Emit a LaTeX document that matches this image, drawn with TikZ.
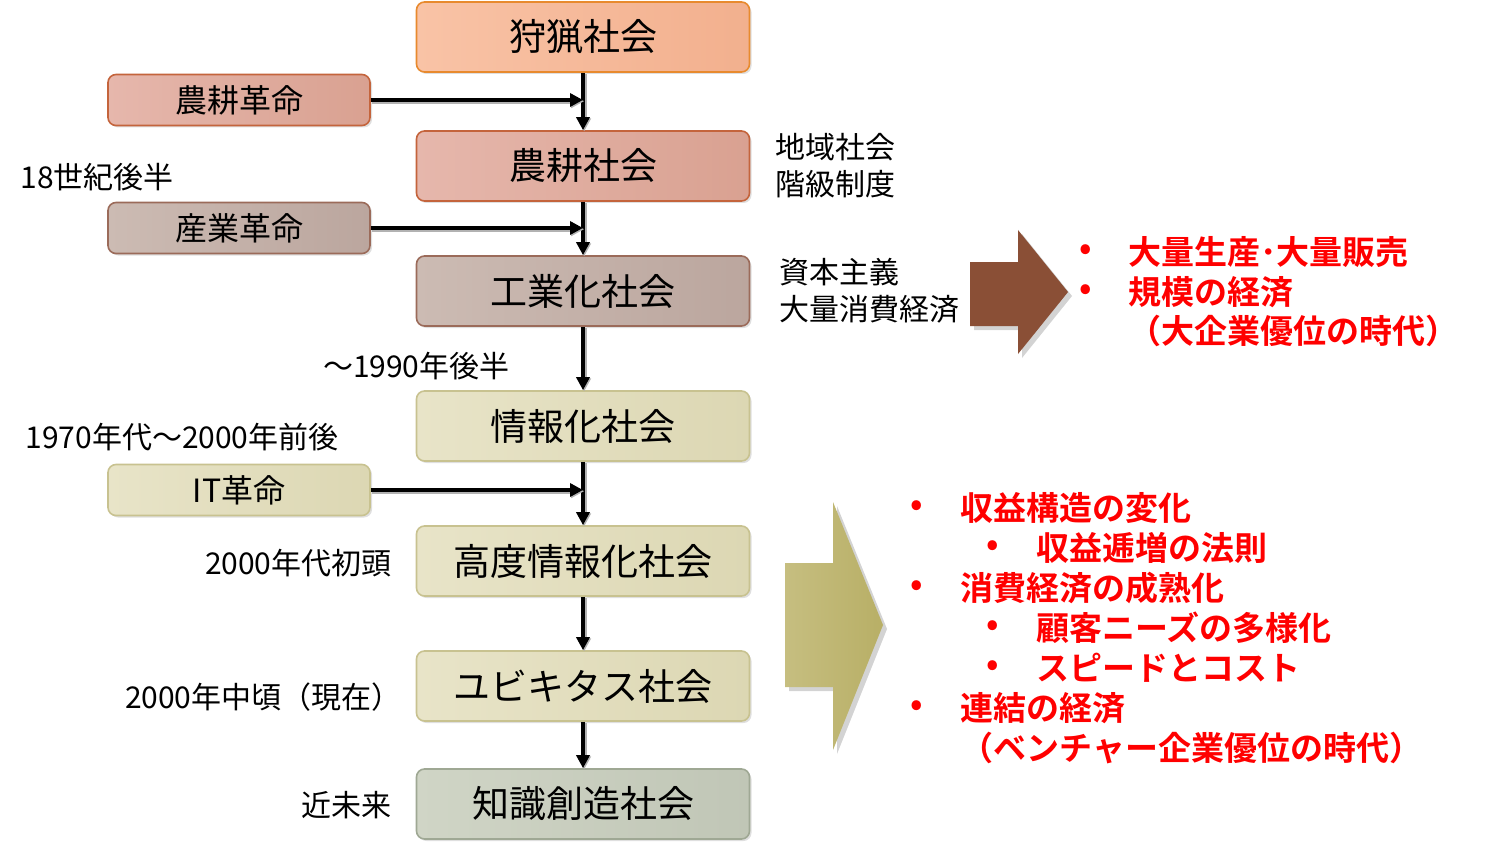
\documentclass[tikz,border=0pt]{standalone}
\usepackage{fontspec}
\setmainfont{Noto Sans CJK JP}[BoldFont={Noto Sans CJK JP Bold}]
\usetikzlibrary{positioning,arrows.meta,shadows}
\definecolor{huntL}{HTML}{F9C3A6}\definecolor{huntR}{HTML}{F2B08E}\definecolor{huntD}{HTML}{E88A2E}
\definecolor{agriL}{HTML}{E6B7AC}\definecolor{agriR}{HTML}{D9A191}\definecolor{agriD}{HTML}{C4643C}
\definecolor{indL}{HTML}{CCBBB3}\definecolor{indR}{HTML}{BBA69E}\definecolor{indD}{HTML}{9B6B5A}
\definecolor{infoL}{HTML}{E8E4C8}\definecolor{infoR}{HTML}{DCD7B3}\definecolor{infoD}{HTML}{C8C290}
\definecolor{knowL}{HTML}{D0D5C6}\definecolor{knowR}{HTML}{C0C6B6}\definecolor{knowD}{HTML}{9FA894}
\definecolor{brownarr}{HTML}{8A4F36}
\definecolor{olivearrL}{HTML}{C6BE80}\definecolor{olivearrR}{HTML}{B8AF66}
\tikzset{
  box/.style={draw, rounded corners=4pt, line width=0.8pt,
    drop shadow={opacity=0.25, shadow xshift=1pt, shadow yshift=-1pt}},
  society/.style={box, minimum width=166.5pt, minimum height=35pt,
    font=\fontsize{18.5}{20}\selectfont},
  revol/.style={box, minimum width=131pt, minimum height=25.5pt,
    font=\fontsize{16}{18}\selectfont},
  tone/.style={left color=#1L, right color=#1R, draw=#1D},
  note/.style={font=\fontsize{15}{17.5}\selectfont, inner sep=0pt},
  point/.style={text=red, font=\bfseries\fontsize{16.5}{19}\selectfont, inner sep=0pt, anchor=west},
  flow/.style={line width=2pt, -{Triangle[length=6.5pt,width=6.5pt]},
    preaction={draw=black!30, line width=2.5pt, transform canvas={xshift=0.6pt, yshift=-0.6pt}}}
}
\begin{document}
\begin{tikzpicture}[x=0.5pt, y=-0.5pt]
    \useasboundingbox (0,0) rectangle (1492,850);
    % the society column
    \node[society, tone=hunt] (hunt) at (583,37) {狩猟社会};
    \node[society, tone=agri] (agri) at (583,166) {農耕社会};
    \node[society, tone=ind] (ind) at (583,291) {工業化社会};
    \node[society, tone=info] (info) at (583,426) {情報化社会};
    \node[society, tone=info] (hinfo) at (583,561) {高度情報化社会};
    \node[society, tone=info] (ubiq) at (583,686) {ユビキタス社会};
    \node[society, tone=know] (know) at (583,804) {知識創造社会};
    \foreach \a/\b in {hunt/agri, agri/ind, ind/info, info/hinfo, hinfo/ubiq, ubiq/know}{
        \draw[flow] (\a) -- (\b);
    }
    % the revolutions
    \node[revol, tone=agri] (agrirev) at (239,100) {農耕革命};
    \node[revol, tone=ind] (indrev) at (239,228) {産業革命};
    \node[revol, tone=info] (itrev) at (239,490) {IT革命};
    \foreach \r/\s in {agrirev/hunt, indrev/agri, itrev/info}{
        \draw[flow] (\r) -- (\r -| \s.south);
    }
    % the dates and notes
    \node[note, anchor=west] (d18) at (20,177) {18世紀後半};
    \node[note, anchor=east] (d1990) at (510,366) {～1990年後半};
    \node[note, anchor=west] (d1970) at (25,437) {1970年代～2000年前後};
    \node[note, anchor=east] (d2000a) at (392,563) {2000年代初頭};
    \node[note, anchor=east] (d2000b) at (402,697) {2000年中頃（現在）};
    \node[note, anchor=east] (dnear) at (392,805) {近未来};
    \node[note, anchor=west, align=left] (agrinote) at (775,166) {地域社会\\[1pt]階級制度};
    \node[note, anchor=west, align=left] (indnote) at (779,291) {資本主義\\[1pt]大量消費経済};
    % the two big arrows
    \fill[brownarr, drop shadow={opacity=0.35, shadow xshift=2pt, shadow yshift=-2pt}]
        (970,262) -- (1018,262) -- (1018,230) -- (1068,292) -- (1018,354) -- (1018,326) -- (970,326) -- cycle;
    \shade[left color=olivearrL, right color=olivearrR, drop shadow={opacity=0.35, shadow xshift=2pt, shadow yshift=-2pt}]
        (785,563) -- (833,563) -- (833,502) -- (883,625) -- (833,750) -- (833,687) -- (785,687) -- cycle;
    % the points
    \foreach \y/\t [count=\i] in {252/大量生産･大量販売, 292/規模の経済}{
        \node[point] (ua\i) at (1079,\y) {•};
        \node[point] (pa\i) at (1128,\y) {\t};
    }
    \node[point] (pa3) at (1128,331) {（大企業優位の時代）};
    \foreach \x/\y/\t [count=\i] in {0/508/収益構造の変化, 76/548/収益逓増の法則, 0/588/消費経済の成熟化,
        76/628/顧客ニーズの多様化, 76/668/スピードとコスト, 0/708/連結の経済}{
        \node[point] (ub\i) at (910+\x,\y) {•};
        \node[point] (pb\i) at (960+\x,\y) {\t};
    }
    \node[point] (pb7) at (960,748) {（ベンチャー企業優位の時代）};
\end{tikzpicture}
\end{document}
